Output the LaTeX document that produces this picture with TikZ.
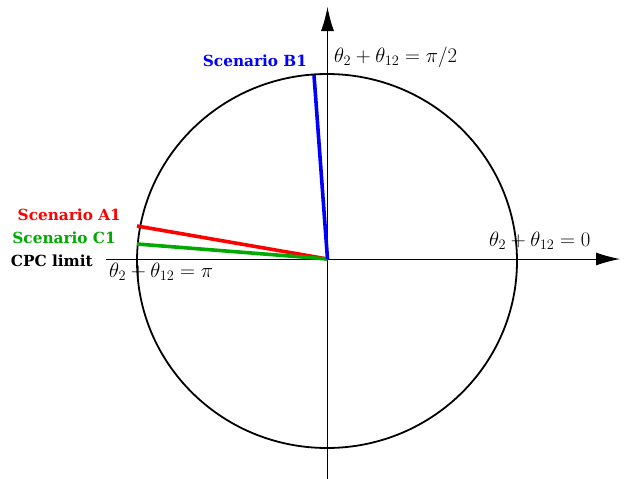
\documentclass[tikz,border=0pt]{standalone}
\usepackage{fontspec}
\newfontfamily\lblfont{DejaVu Serif}
\usetikzlibrary{arrows.meta}
\definecolor{scred}{RGB}{255,0,0}
\definecolor{scgreen}{RGB}{0,170,0}
\definecolor{scblue}{RGB}{0,0,255}
\begin{document}
\begin{tikzpicture}[x=1pt,y=-1pt,
  axis/.style={line width=1pt,-{Latex[length=24pt,width=13pt]}},
  scen/.style={line width=3.6pt},
  lbl/.style={font=\lblfont\fontsize{15.3}{18}\selectfont\bfseries,inner sep=0pt},
  mlbl/.style={font=\fontsize{19.5}{22}\selectfont,inner sep=0pt}]
\useasboundingbox (0,0) rectangle (624,479);
\coordinate (O) at (327.5,259);
\coordinate (xs) at (106,259);
\coordinate (xe) at (620,259);
\coordinate (ys) at (327.5,479);
\coordinate (ye) at (327.5,7);
\draw[line width=1.8pt] (327,261) ellipse [x radius=190, y radius=187];
\draw[axis] (xs) -- (xe);
\draw[axis] (ys) -- (ye);
\coordinate (A) at (137,226);
\coordinate (C) at (137,244);
\coordinate (B) at (314,75);
\draw[scen,scred] (O) -- (A);
\draw[scen,scgreen] (O) -- (C);
\draw[scen,scblue] (O) -- (B);
\node[lbl,text=scblue] (lb) at (255,61) {Scenario B1};
\node[lbl,text=scred,anchor=east] (la) at (121,215) {Scenario A1};
\node[lbl,text=scgreen,anchor=east] (lc) at (116,238) {Scenario C1};
\node[lbl,anchor=east] (lp) at (93,261) {CPC limit};
\node[mlbl,anchor=west] (m1) at (334,57) {$\theta_2+\theta_{12}=\pi/2$};
\node[mlbl,anchor=west] (m0) at (489,241) {$\theta_2+\theta_{12}=0$};
\node[mlbl,anchor=west] (mp) at (109,272) {$\theta_2+\theta_{12}=\pi$};
\end{tikzpicture}
\end{document}
